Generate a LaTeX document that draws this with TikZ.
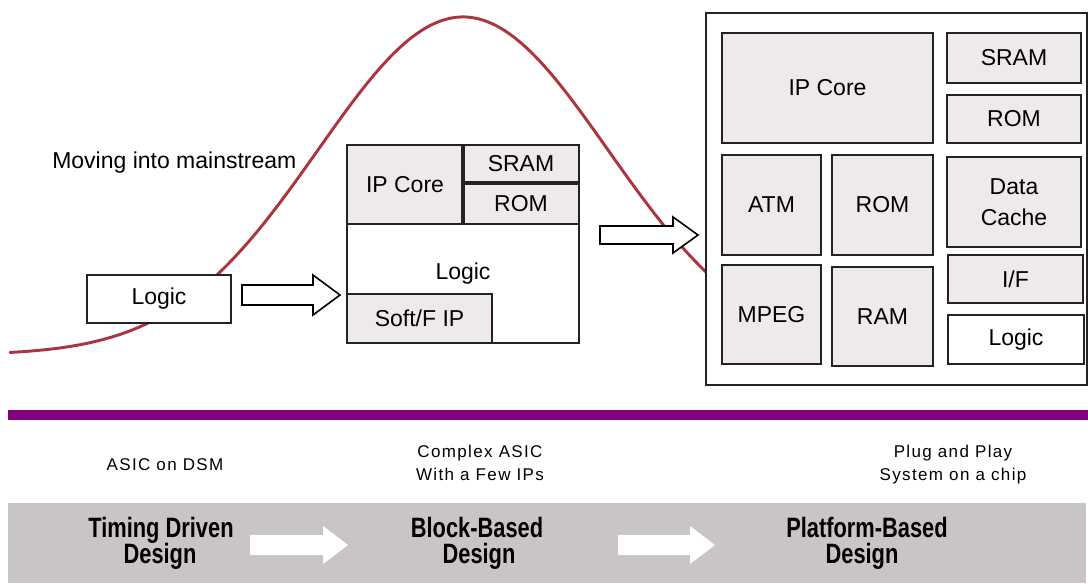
\documentclass[tikz,border=0pt]{standalone}
\usepackage{fontspec}
\setmainfont{Liberation Sans}
\newfontfamily\capfont[LetterSpace=8]{Liberation Sans}
\newfontfamily\narrowbf[FakeStretch=0.78]{Liberation Sans}
\definecolor{curvered}{RGB}{172,52,62}
\definecolor{purplebar}{RGB}{128,0,128}
\definecolor{bandgray}{RGB}{200,196,200}
\definecolor{cellgray}{RGB}{238,233,235}
\definecolor{edge}{RGB}{35,35,35}
\newcommand{\mainsz}{\fontsize{17.25}{21}\selectfont}
\newcommand{\bx}[7]{\node[#1, anchor=north west, minimum width={(#5-#3)*0.75pt}, minimum height={(#6-#4)*0.75pt}] (#2) at (#3,#4) {#7};}
\newcommand{\blockarrow}[7]{\draw[#1] ({#2},{#5-#6}) -- ({#3},{#5-#6}) -- ({#3},{#5-#7}) -- ({#4},{#5}) -- ({#3},{#5+#7}) -- ({#3},{#5+#6}) -- ({#2},{#5+#6}) -- cycle;}
\tikzset{
  cell/.style={draw=edge, fill=cellgray, line width=1.5pt, inner sep=0pt, outer sep=0pt, font=\mainsz, align=center},
  whitecell/.style={cell, fill=white},
  thincell/.style={cell, line width=1.2pt},
  thinwhite/.style={thincell, fill=white},
  frame/.style={draw=edge, fill=white, line width=1.5pt, inner sep=0pt, outer sep=0pt},
  hollow/.style={draw=black, fill=white, line width=1.2pt, line join=miter},
  bandarrow/.style={fill=white, draw=none},
  captext/.style={font=\capfont\fontsize{12.75}{16}\selectfont, anchor=base, inner sep=0pt},
  stagetext/.style={font=\narrowbf\bfseries\fontsize{21}{24}\selectfont, anchor=base, inner sep=0pt},
  plaintext/.style={font=\mainsz, anchor=base, inner sep=0pt}
}
\begin{document}
\begin{tikzpicture}[x=0.75pt,y=-0.75pt]
\useasboundingbox (0,0) rectangle (1088,583);
% adoption curve
\draw[curvered, line width=2.2pt, line cap=round] plot[domain=10:706, samples=160] (\x,{355-338*exp(-0.5*((\x-463)/145)^2)});
\node[plaintext, anchor=base west] (mainstream) at (52,168) {Moving into mainstream};
% stage 1
\bx{whitecell}{logicA}{87}{275}{231}{323}{Logic}
\blockarrow{hollow}{242}{313}{340}{295}{10}{20}
% stage 2
\bx{thinwhite}{midblk}{347}{145}{579}{343}{}
\bx{thincell}{ipcoreB}{347}{145}{463}{224}{IP Core}
\bx{thincell}{sramB}{463}{145}{579}{183}{SRAM}
\bx{thincell}{romB}{463}{183}{579}{224}{ROM}
\bx{thincell}{softB}{347}{294}{492}{343}{Soft/F IP}
\node[plaintext] (logicB) at (463,279) {Logic};
\draw[edge, line width=2.4pt] (ipcoreB.north east) -- (ipcoreB.south east);
\draw[edge, line width=2.4pt] (sramB.south west) -- (sramB.south east);
\blockarrow{hollow}{600}{673}{698}{235}{9}{18}
% stage 3
\bx{frame}{soc}{706}{13}{1087}{385}{}
\bx{cell}{ipcoreC}{722}{33}{933}{143}{IP Core}
\bx{cell}{sramC}{947}{33}{1081}{83}{SRAM}
\bx{cell}{romC}{947}{95}{1081}{143}{ROM}
\bx{cell}{atmC}{722}{155}{821}{255}{ATM}
\bx{cell}{romD}{832}{155}{933}{255}{ROM}
\bx{cell}{cacheC}{947}{157}{1081}{247}{Data\\[2pt]Cache}
\bx{cell}{mpegC}{722}{265}{821}{364}{MPEG}
\bx{cell}{ramC}{832}{267}{933}{366}{RAM}
\bx{cell}{ifC}{948}{255}{1083}{303}{I/F}
\bx{whitecell}{logicC}{948}{315}{1084}{364}{Logic}
% divider bar
\fill[purplebar] (8,410) rectangle (1088,420);
% captions
\node[captext] (cap1) at (165,470) {ASIC on DSM};
\node[captext] (cap2a) at (480,457) {Complex ASIC};
\node[captext] (cap2b) at (480,480) {With a Few IPs};
\node[captext] (cap3a) at (953,457) {Plug and Play};
\node[captext] (cap3b) at (953,480) {System on a chip};
% stage band
\fill[bandgray] (8,503) rectangle (1086,583);
\blockarrow{bandarrow}{250}{323}{348}{545}{10}{19}
\blockarrow{bandarrow}{618}{690}{715}{545}{10}{19}
\node[stagetext] (st1a) at (161,537) {Timing Driven};
\node[stagetext] (st1b) at (160,563) {Design};
\node[stagetext] (st2a) at (477,537) {Block-Based};
\node[stagetext] (st2b) at (479,563) {Design};
\node[stagetext] (st3a) at (867,537) {Platform-Based};
\node[stagetext] (st3b) at (862,563) {Design};
\end{tikzpicture}
\end{document}
